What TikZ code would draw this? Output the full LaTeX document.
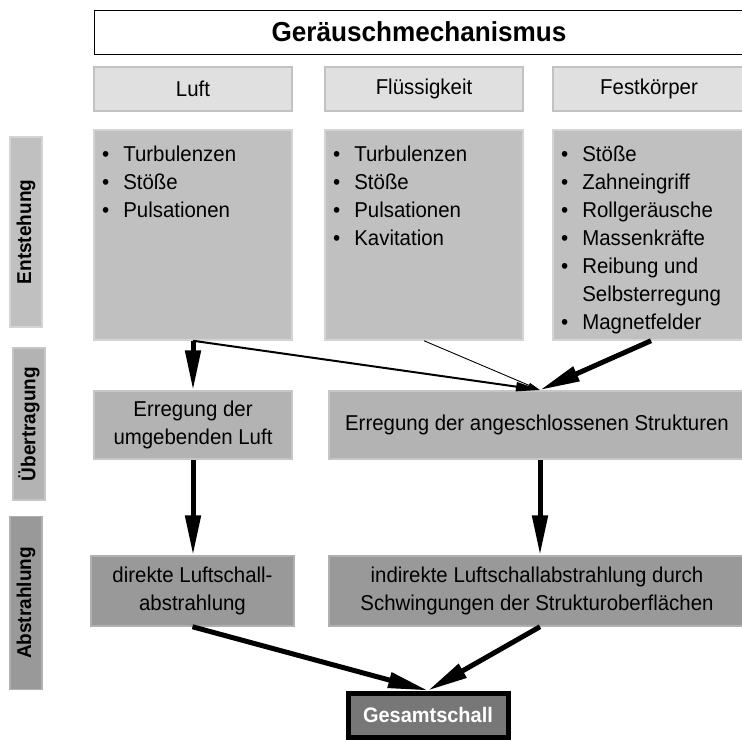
\documentclass[tikz,border=0pt]{standalone}
\usepackage{fontspec}
\setmainfont[FakeStretch=0.95]{Liberation Sans}
\usetikzlibrary{arrows.meta}
\tikzset{
  box/.style={draw, line width=1.5pt, minimum width=#1, inner sep=0pt, align=center,
    font=\fontsize{21.5}{28}\selectfont},
  hdr/.style={box=#1, fill=hdrfill, draw=hdrline, minimum height=44pt},
  cnt/.style={box=#1, fill=cntfill, draw=cntline, minimum height=210pt},
  ueb/.style={box=#1, fill=uebfill, draw=uebline, minimum height=68pt},
  abs/.style={box=#1, fill=absfill, draw=absline, minimum height=70pt},
  side/.style={draw, line width=1.5pt, minimum width=#1, minimum height=32pt, inner sep=0pt,
    rotate=90, font=\fontsize{20}{22}\selectfont\bfseries},
  items/.style={anchor=north west, inner sep=0pt, font=\fontsize{21.5}{28}\selectfont},
  thickarrow/.style={line width=5pt, -{Triangle[length=40pt,width=15pt]}},
  medarrow/.style={line width=2pt, -{Triangle[length=24pt,width=9pt]}},
  thinarrow/.style={line width=0.9pt, -{Triangle[length=12pt,width=5pt]}},
}
\definecolor{hdrfill}{HTML}{E0E0E0}
\definecolor{hdrline}{HTML}{C2C2C2}
\definecolor{cntfill}{HTML}{C0C0C0}
\definecolor{cntline}{HTML}{D4D4D4}
\definecolor{uebfill}{HTML}{B3B3B3}
\definecolor{uebline}{HTML}{C6C6C6}
\definecolor{absfill}{HTML}{999999}
\definecolor{absline}{HTML}{B0B0B0}
\definecolor{gesfill}{HTML}{777777}
\newcommand{\itemlist}[1]{\begin{tabular}{@{}l@{\hspace{14pt}}l@{}}#1\end{tabular}}
\begin{document}
\begin{tikzpicture}[x=1pt,y=-1pt]
\useasboundingbox (0,0) rectangle (742,740);
% title
\node[draw, line width=1pt, fill=white, minimum width=650pt, minimum height=44pt, inner sep=0pt,
  font=\fontsize{27.5}{30}\selectfont\bfseries] (title) at (419,32) {Geräuschmechanismus};
% headers
\node[hdr=198pt] (hLuft) at (193,89) {Luft};
\node[hdr=198pt] (hFl) at (424,89) {Flüssigkeit};
\node[hdr=192pt] (hFest) at (649,89) {Festkörper};
% content boxes
\node[cnt=198pt] (cLuft) at (193,235) {};
\node[cnt=198pt] (cFl) at (424,235) {};
\node[cnt=192pt] (cFest) at (649,235) {};
\node[items] (iLuft) at (102,142) {\itemlist{•&Turbulenzen\\•&Stöße\\•&Pulsationen}};
\node[items] (iFl) at (333,142) {\itemlist{•&Turbulenzen\\•&Stöße\\•&Pulsationen\\•&Kavitation}};
\node[items] (iFest) at (561,142) {\itemlist{•&Stöße\\•&Zahneingriff\\•&Rollgeräusche\\•&Massenkräfte\\•&Reibung und\\&Selbsterregung\\•&Magnetfelder}};
% side labels
\node[side=190pt, fill=cntfill, draw=cntline] (sEnt) at (26,232) {Entstehung};
\node[side=152pt, fill=uebfill, draw=uebline] (sUeb) at (29,424) {Übertragung};
\node[side=173pt, fill=absfill, draw=absline] (sAbs) at (26,603) {Abstrahlung};
% transmission
\node[ueb=198pt] (eLuft) at (193,425) {Erregung der\\umgebenden Luft};
\node[ueb=416pt] (eStr) at (537,425) {Erregung der angeschlossenen Strukturen};
% radiation
\node[abs=203pt] (aLuft) at (192.5,591) {direkte Luftschall-\\abstrahlung};
\node[abs=416pt] (aStr) at (537,591) {indirekte Luftschallabstrahlung durch\\Schwingungen der Strukturoberflächen};
% total
\node[draw=black, line width=5pt, fill=gesfill, text=white, minimum width=160pt, minimum height=44pt,
  inner sep=0pt, font=\fontsize{21}{24}\selectfont\bfseries] (ges) at (428,715) {Gesamtschall};
% connectors
\coordinate (conv) at (540,390);
\draw[thickarrow] (cLuft.south) -- (eLuft.north);
\draw[medarrow] (cLuft.south) -- (conv);
\draw[thinarrow] (cFl.south) -- (conv);
\draw[thickarrow] ([xshift=2pt]cFest.south) -- (conv);
\draw[thickarrow] (eLuft.south) -- (aLuft.north -| eLuft.south);
\draw[thickarrow] (eStr.south -| conv) -- (aStr.north -| conv);
\draw[thickarrow] (aLuft.south) -- (ges.north);
\draw[thickarrow] (aStr.south -| conv) -- (ges.north);
\end{tikzpicture}
\end{document}
